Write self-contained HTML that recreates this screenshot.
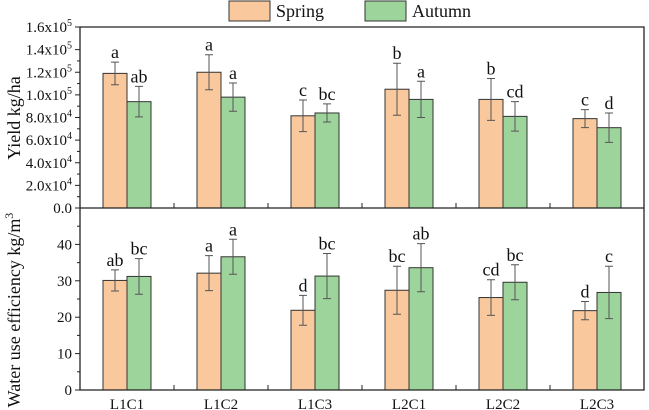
<!DOCTYPE html>
<html><head><meta charset="utf-8"><style>
body{margin:0;background:#fff}
svg{display:block}
svg text{font-family:"Liberation Serif","Times New Roman","DejaVu Serif",serif}
</style></head><body>
<svg id="c" width="649" height="410" font-family="Liberation Serif, DejaVu Serif, serif"></svg>
<script>
const categories=["L1C1","L1C2","L1C3","L2C1","L2C2","L2C3"];
const yieldSpring=[11.9,12.0,8.15,10.5,9.6,7.9];
const yieldSpringErr=[1.0,1.55,1.4,2.3,1.85,0.8];
const yieldAutumn=[9.4,9.8,8.4,9.6,8.1,7.1];
const yieldAutumnErr=[1.35,1.25,0.8,1.6,1.3,1.3];
const yieldSpringLetters=["a","a","c","b","b","c"];
const yieldAutumnLetters=["ab","a","bc","a","cd","d"];
const wueSpring=[30.1,32.1,21.9,27.4,25.4,21.8];
const wueSpringErr=[2.9,4.8,4.1,6.6,4.9,2.5];
const wueAutumn=[31.2,36.6,31.3,33.6,29.6,26.8];
const wueAutumnErr=[4.9,4.8,6.2,6.6,4.8,7.2];
const wueSpringLetters=["ab","a","d","bc","cd","d"];
const wueAutumnLetters=["bc","a","bc","ab","bc","c"];
const yieldTicks=["0.0","2.0x10^4","4.0x10^4","6.0x10^4","8.0x10^4","1.0x10^5","1.2x10^5","1.4x10^5","1.6x10^5"];
const wueTicks=[0,10,20,30,40];

const NS="http://www.w3.org/2000/svg",svg=document.getElementById("c");
function el(t,a,p){const e=document.createElementNS(NS,t);for(const k in a)e.setAttribute(k,a[k]);if(t==="text")e.setAttribute("font-family","Liberation Serif, DejaVu Serif, serif");(p||svg).appendChild(e);return e;}
const L=80,R=644,step=(R-L)/categories.length,bw=24;
const cx=i=>L+step*(i+0.5);
const yTop=v=>208-v/16*181;
const yBot=v=>390-v/50*182;
const ORANGE="#F9C89C",GREEN="#9DD49B";

function panel(sp,spE,au,auE,spL,auL,ys,nm){
  const g=el("g",{});
  
  
  categories.forEach((c,i)=>{
    [[sp,spE,spL,ORANGE,-bw,"spring"],[au,auE,auL,GREEN,0,"autumn"]].forEach(([v,e,lt,col,off,s])=>{
      const x=cx(i)+off,y0=ys(0),y=ys(v[i]);
      const r=el("rect",{x:x,y:y,width:bw,height:y0-y,fill:col,stroke:"#333","stroke-width":1},g);
      
      
      const m=x+bw/2,yh=ys(v[i]+e[i]),yl=ys(v[i]-e[i]);
      const eb=el("path",{d:`M${m},${yh}V${yl}M${m-4},${yh}H${m+4}M${m-4},${yl}H${m+4}`,stroke:"#555","stroke-width":1,fill:"none"},g);
      
      
      const t=el("text",{x:m,y:yh-4,"text-anchor":"middle","font-size":18,fill:"#111"},g);
      t.textContent=lt[i];
      
      
    });
  });
}
panel(yieldSpring,yieldSpringErr,yieldAutumn,yieldAutumnErr,yieldSpringLetters,yieldAutumnLetters,yTop,"yield");
panel(wueSpring,wueSpringErr,wueAutumn,wueAutumnErr,wueSpringLetters,wueAutumnLetters,yBot,"wue");

const f=el("path",{d:`M${L},27H${R}V390H${L}ZM${L},208H${R}`,fill:"none",stroke:"#222","stroke-width":1.3});


yieldTicks.forEach((s,i)=>{
  const y=yTop(i*2);
  el("line",{x1:L-5,x2:L,y1:y,y2:y,stroke:"#222"});
  if(i>0&&i<8)el("line",{x1:L-3,x2:L,y1:yTop(i*2-1),y2:yTop(i*2-1),stroke:"#222"});
  const t=el("text",{x:L-8,y:y+5,"text-anchor":"end","font-size":15,fill:"#111"});
  const p=s.split("^");t.textContent=p[0];
  if(p[1]){const ts=el("tspan",{dy:-6,"font-size":10},t);ts.textContent=p[1];}
  
  
});
wueTicks.forEach(v=>{
  const y=yBot(v);
  el("line",{x1:L-5,x2:L,y1:y,y2:y,stroke:"#222"});
  el("line",{x1:L-3,x2:L,y1:yBot(v+5),y2:yBot(v+5),stroke:"#222"});
  const t=el("text",{x:L-8,y:y+5,"text-anchor":"end","font-size":15,fill:"#111"});
  t.textContent=v;
  
  
});
categories.forEach((c,i)=>{
  if(i>0){const x=L+step*i;
    el("line",{x1:x,x2:x,y1:390,y2:385,stroke:"#222"});
    el("line",{x1:x,x2:x,y1:208,y2:203,stroke:"#222"});}
  const t=el("text",{x:cx(i),y:409,"text-anchor":"middle","font-size":15,fill:"#111"});
  t.textContent=c;
  
  
});
let t=el("text",{transform:"translate(20,118) rotate(-90)","text-anchor":"middle","font-size":18,fill:"#111"});
t.textContent="Yield kg/ha";

t=el("text",{transform:"translate(20,310) rotate(-90)","text-anchor":"middle","font-size":18,fill:"#111"});
t.textContent="Water use efficiency kg/m";
const sup=el("tspan",{dy:-7,"font-size":12},t);sup.textContent="3";

[["Spring",ORANGE,229],["Autumn",GREEN,365]].forEach(([n,c,x])=>{
  const r=el("rect",{x:x,y:1,width:41,height:20,fill:c,stroke:"#333"});
  
  const tt=el("text",{x:x+47,y:17,"font-size":18,fill:"#111"});tt.textContent=n;
  
});
</script>
</body></html>
